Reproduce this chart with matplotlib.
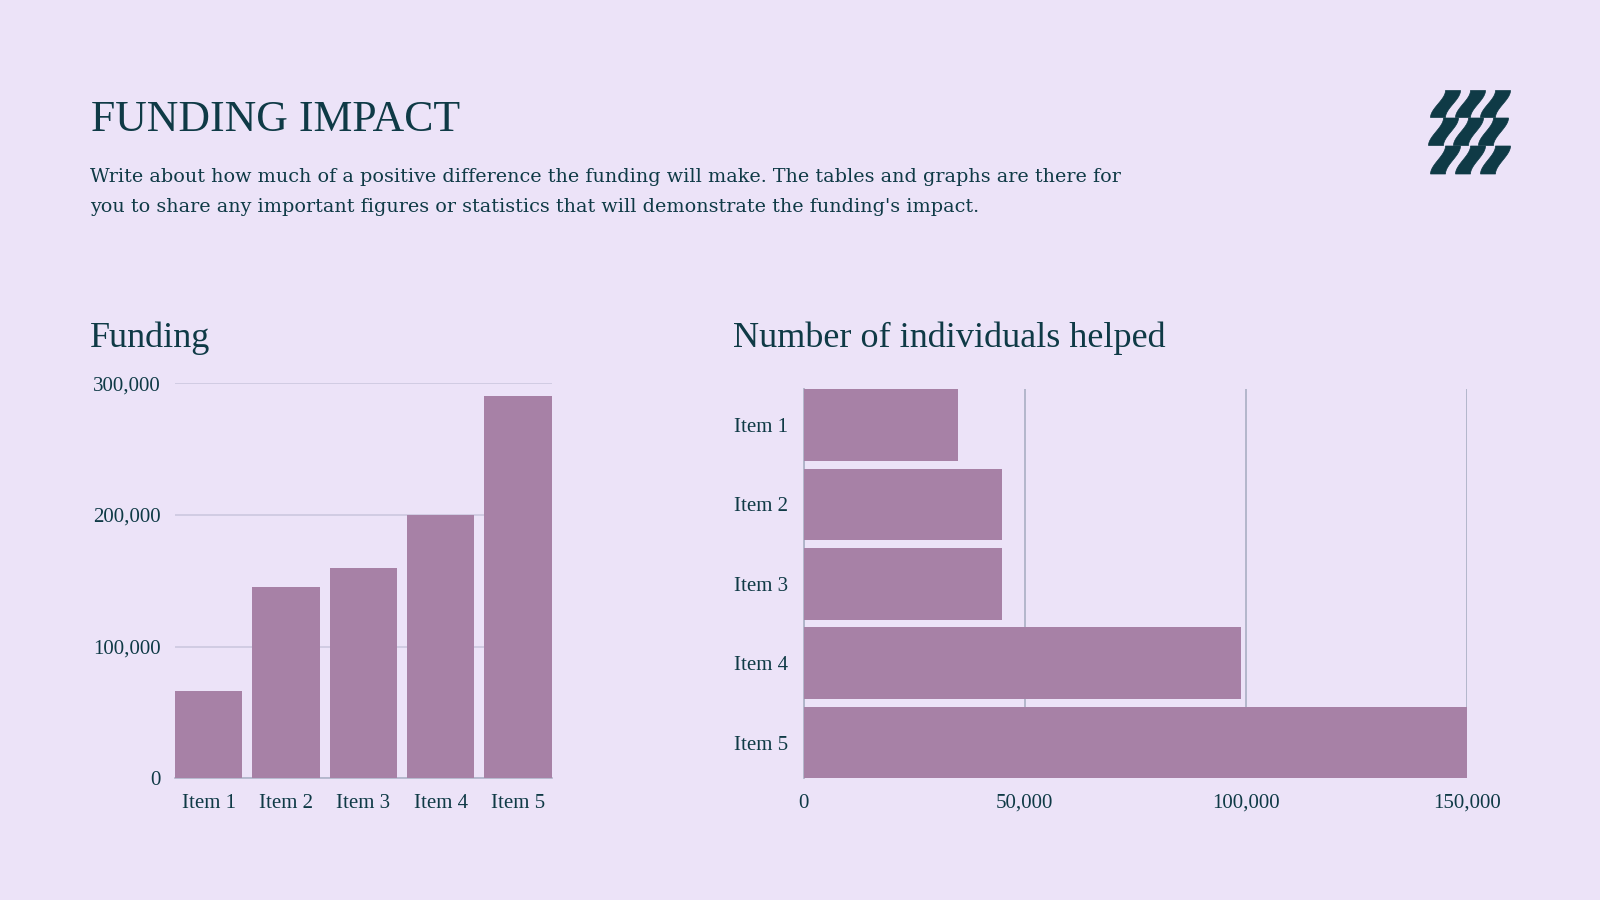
import numpy as np
import matplotlib
matplotlib.use('Agg')
import matplotlib.pyplot as plt
from matplotlib.patches import Polygon
from matplotlib.ticker import FuncFormatter

# ── data ─────────────────────────────────────────────────────────────────────
funding_items = ['Item 1', 'Item 2', 'Item 3', 'Item 4', 'Item 5']
funding_values = [66000, 145000, 160000, 200000, 290000]

helped_items = ['Item 1', 'Item 2', 'Item 3', 'Item 4', 'Item 5']
helped_values = [35000, 45000, 45000, 99000, 150000]

funding_ticks = [0, 100000, 200000, 300000]
helped_ticks = [0, 50000, 100000, 150000]

# ── style ────────────────────────────────────────────────────────────────────
BG = '#ECE3F8'
BAR = '#A781A6'
INK = '#0F3A46'
GRID_L = '#C9C6DD'
GRID_R = '#AEB3C8'
SERIF = 'Liberation Serif'
BODY = 'DejaVu Serif'

W, H = 1600, 900
fig = plt.figure(figsize=(16, 9), dpi=100, facecolor=BG)

def fx(px):
    return px / W

def fy(py):
    return 1 - py / H

thousands = FuncFormatter(lambda v, p: f'{int(v):,}')

# ── header ───────────────────────────────────────────────────────────────────
fig.text(fx(91), fy(130.7), 'FUNDING IMPACT', family=SERIF, fontsize=31.5,
         color=INK, va='baseline', ha='left')
fig.text(fx(90), fy(181.7),
         'Write about how much of a positive difference the funding will make. '
         'The tables and graphs are there for',
         family=BODY, fontsize=13.8, color=INK, va='baseline', ha='left')
fig.text(fx(90), fy(211.7),
         "you to share any important figures or statistics that will "
         "demonstrate the funding's impact.",
         family=BODY, fontsize=13.8, color=INK, va='baseline', ha='left')

fig.text(fx(90), fy(346.7), 'Funding', family=SERIF, fontsize=26,
         color=INK, va='baseline', ha='left')
fig.text(fx(732.7), fy(346.7), 'Number of individuals helped', family=SERIF,
         fontsize=26, color=INK, va='baseline', ha='left')

# ── logo (three rows of slanted wavy strokes) ────────────────────────────────
def stroke(x_bot, y_bot, y_top, slant=15, half=7.5):
    t = np.linspace(0, 1, 30)
    s = t * t * (3 - 2 * t)          # smoothstep gives the S-shaped bend
    cx = x_bot + slant * s
    cy = y_bot + (y_top - y_bot) * t
    left = [(fx(x - half), fy(y)) for x, y in zip(cx, cy)]
    right = [(fx(x + half), fy(y)) for x, y in zip(cx[::-1], cy[::-1])]
    return Polygon(left + right, closed=True, transform=fig.transFigure,
                   facecolor=INK, edgecolor=INK, lw=0.5)

rows = [(117.5, 90.5), (145.5, 118.0), (174.0, 146.0)]
for r, (yb, yt) in enumerate(rows):
    for j in range(3):
        fig.patches.append(stroke(1438 + 25 * j - (2 if r == 1 else 0), yb, yt))

# ── left chart: funding ──────────────────────────────────────────────────────
axL = fig.add_axes([fx(175), fy(778.3), fx(551.7) - fx(175),
                    fy(383.3) - fy(778.3)])
axL.set_facecolor('none')
xs = np.arange(len(funding_items))
axL.bar(xs, funding_values, width=0.87, color=BAR, zorder=3)
axL.set_xlim(-0.435, len(funding_items) - 1 + 0.435)
axL.set_ylim(0, 300000)
axL.set_yticks(funding_ticks)
axL.yaxis.set_major_formatter(thousands)
axL.set_xticks(xs)
axL.set_xticklabels(funding_items)
axL.grid(axis='y', color=GRID_L, lw=1.1, zorder=0)
for sp in ['top', 'right', 'left']:
    axL.spines[sp].set_visible(False)
axL.spines['bottom'].set_color(GRID_R)
axL.spines['bottom'].set_linewidth(1.2)
axL.tick_params(axis='y', length=0, pad=10.5, labelsize=15, labelcolor=INK)
axL.tick_params(axis='x', length=0, pad=11, labelsize=15, labelcolor=INK)
for lab in axL.get_xticklabels() + axL.get_yticklabels():
    lab.set_family(SERIF)

# ── right chart: individuals helped ──────────────────────────────────────────
axR = fig.add_axes([fx(803.5), fy(778.3), fx(1466.7) - fx(803.5),
                    fy(389.3) - fy(778.3)])
axR.set_facecolor('none')
ys = np.arange(len(helped_items))
axR.barh(ys, helped_values, height=0.9, color=BAR, zorder=3, clip_on=False)
axR.set_ylim(len(helped_items) - 1 + 0.45, -0.45)
axR.set_xlim(0, 150000)
axR.set_xticks(helped_ticks)
axR.xaxis.set_major_formatter(thousands)
axR.set_yticks(ys)
axR.set_yticklabels(helped_items)
axR.grid(axis='x', color=GRID_R, lw=1.3, zorder=0)
for sp in ['top', 'right', 'bottom']:
    axR.spines[sp].set_visible(False)
axR.spines['left'].set_color(GRID_R)
axR.spines['left'].set_linewidth(1.3)
axR.tick_params(axis='y', length=0, pad=11, labelsize=15, labelcolor=INK)
axR.tick_params(axis='x', length=0, pad=11, labelsize=15, labelcolor=INK)
for lab in axR.get_xticklabels() + axR.get_yticklabels():
    lab.set_family(SERIF)

fig.savefig('out.png', dpi=100, facecolor=BG)
